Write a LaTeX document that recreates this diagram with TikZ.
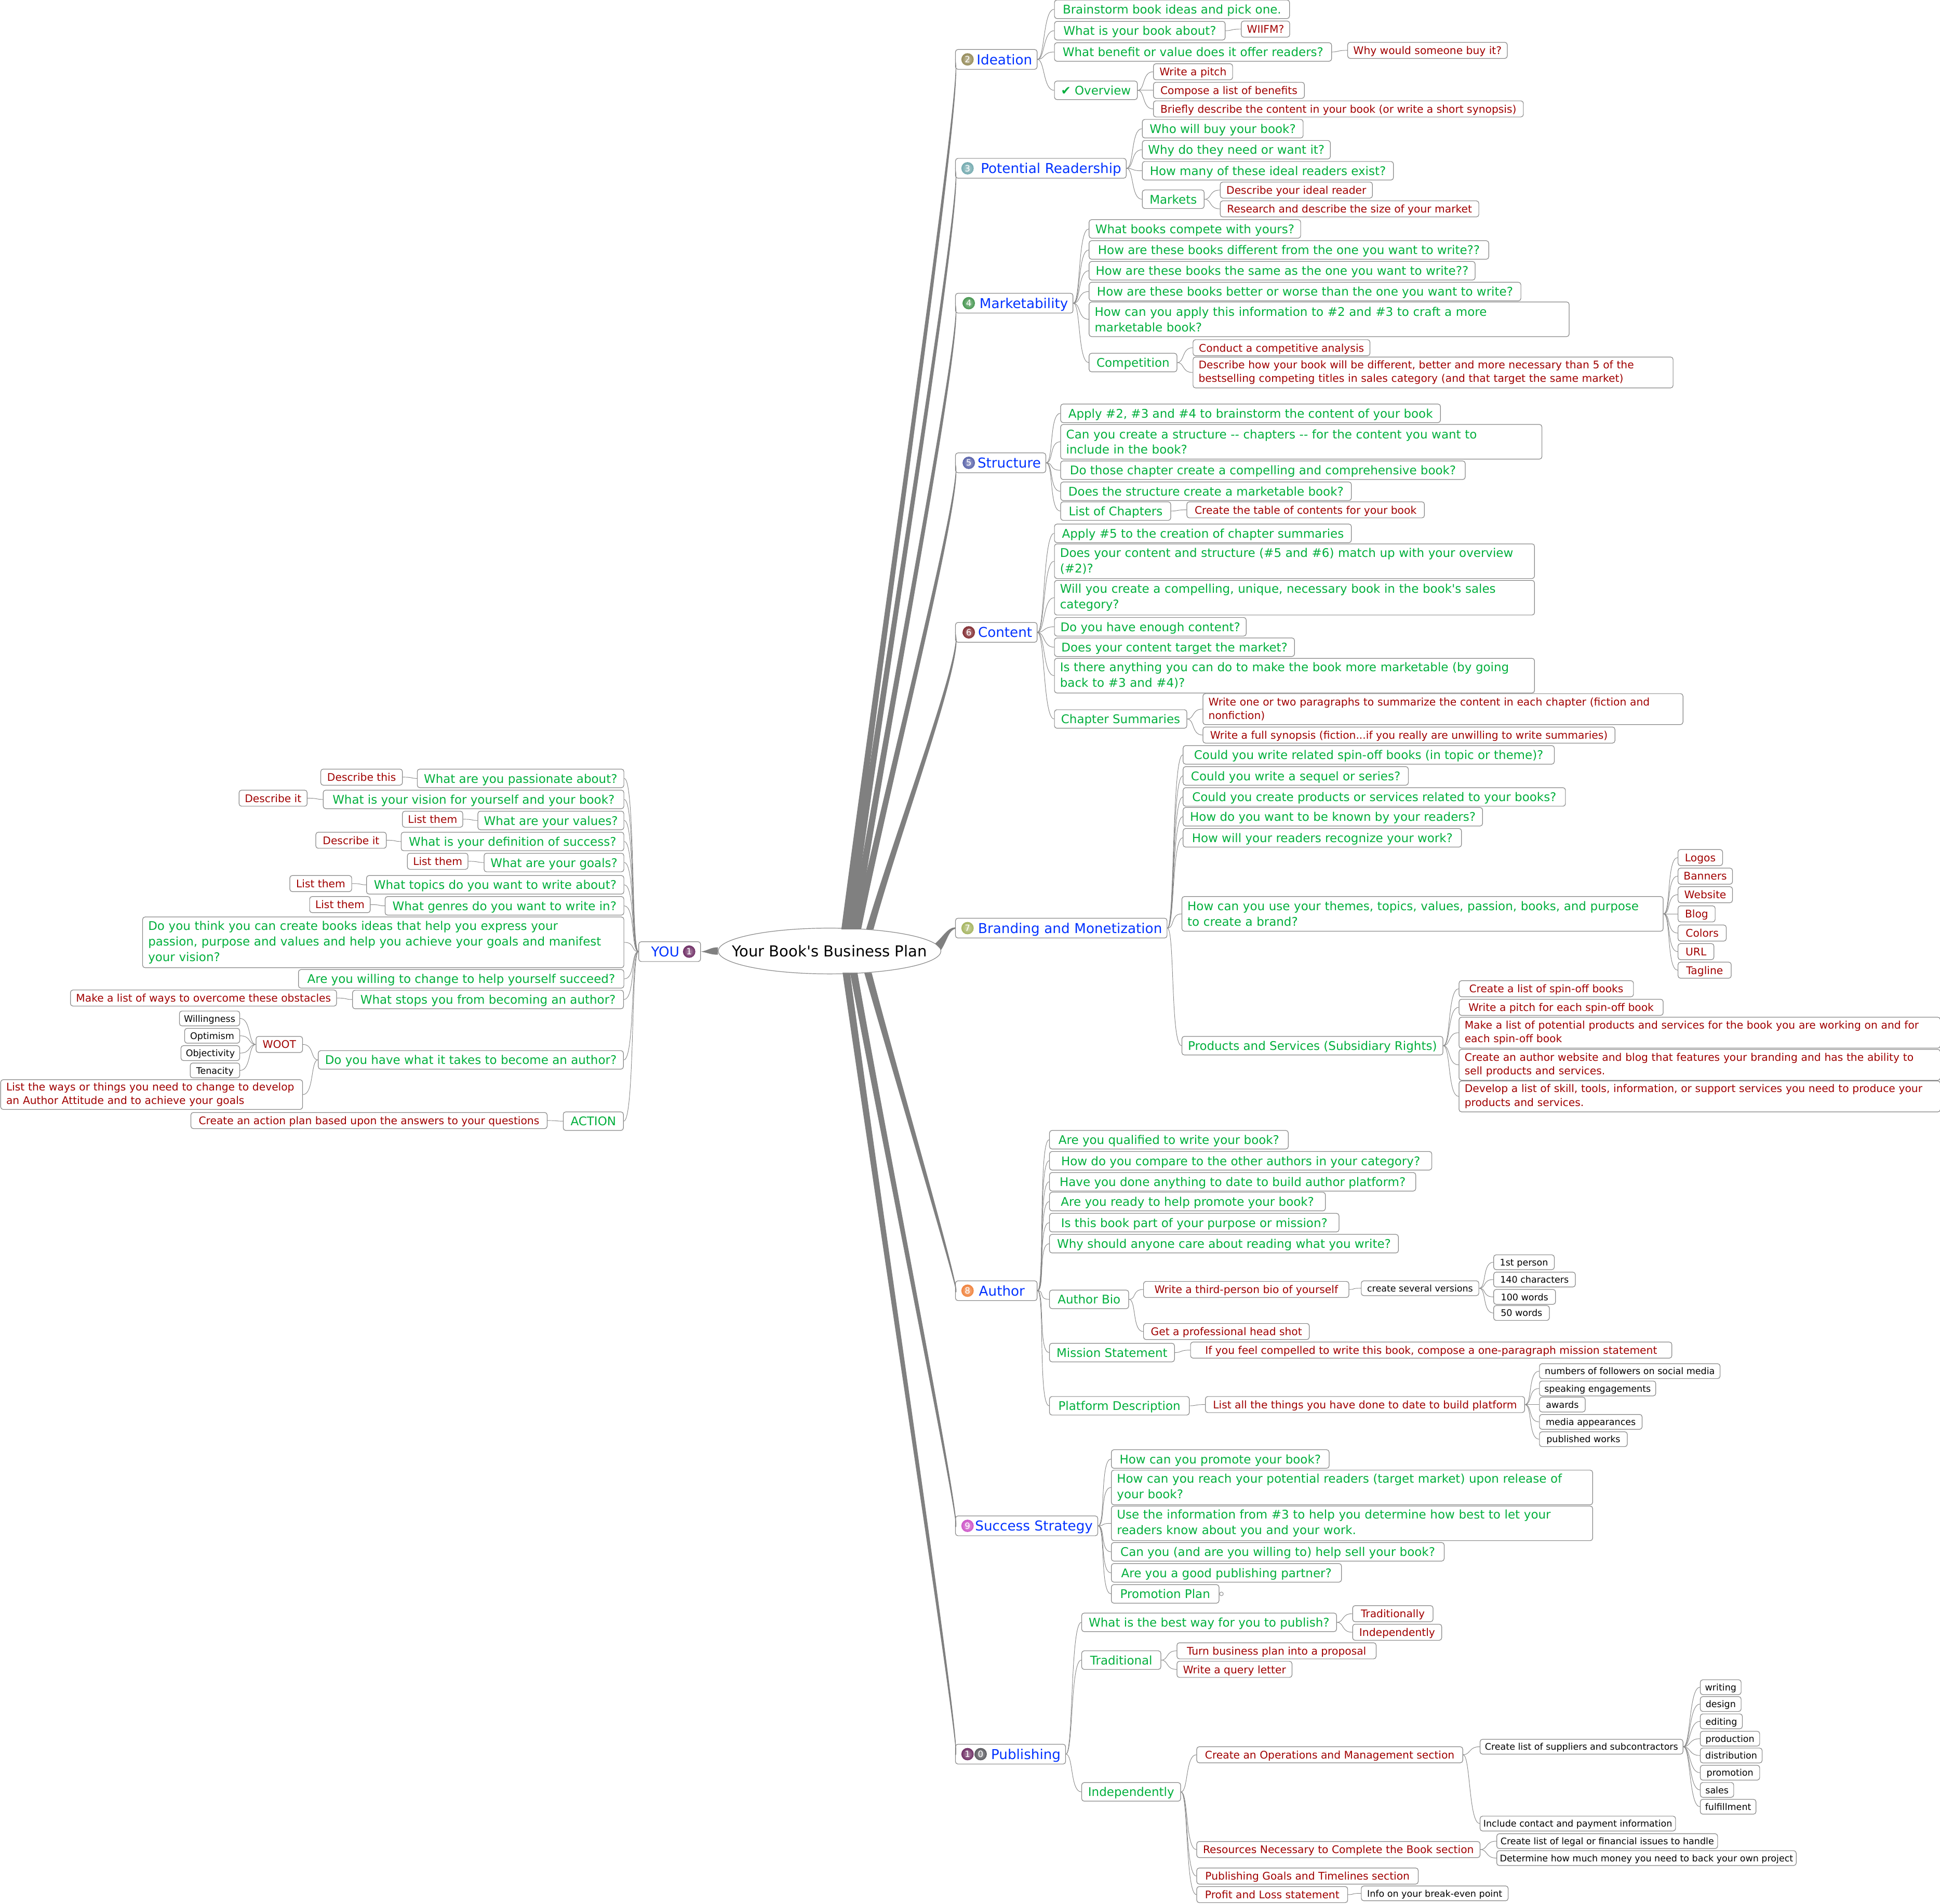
\documentclass[tikz,border=0pt]{standalone}
\usepackage{fontspec}
\setmainfont{DejaVu Sans}
\usetikzlibrary{calc, shapes.geometric}
\definecolor{grntext}{RGB}{0,175,60}
\definecolor{redtext}{RGB}{160,0,0}
\definecolor{blutext}{RGB}{0,50,255}
\definecolor{boxgray}{RGB}{135,135,135}
\definecolor{branchgray}{RGB}{128,128,128}
\definecolor{badgeb}{RGB}{150,140,90}
\definecolor{badgec}{RGB}{115,170,175}
\definecolor{badged}{RGB}{70,150,80}
\definecolor{badgee}{RGB}{90,100,170}
\definecolor{badgef}{RGB}{130,45,50}
\definecolor{badgeg}{RGB}{165,180,95}
\definecolor{badgeh}{RGB}{240,130,60}
\definecolor{badgei}{RGB}{205,85,200}
\definecolor{badgea}{RGB}{110,45,100}
\definecolor{badgez}{RGB}{90,90,95}
\tikzset{
  box/.style={draw=boxgray, line width=0.5pt, rounded corners=2pt, fill=white, anchor=west, inner xsep=4.5pt, inner ysep=0pt, align=left, text depth=0pt},
  wd/.style={minimum width=#1pt},
  ht/.style={minimum height=#1pt, text depth=},
  blu/.style={box, text=blutext, minimum height=16pt, inner xsep=4pt, align=right, font=\fontsize{11}{13}\selectfont},
  grn/.style={box, text=grntext, minimum height=15pt, font=\fontsize{9.65}{12.5}\selectfont},
  rdd/.style={box, text=redtext, minimum height=13pt, font=\fontsize{8.5}{11}\selectfont},
  blk/.style={box, text=black, minimum height=12pt, inner xsep=2.5pt, font=\fontsize{7.35}{11}\selectfont},
  badge/.style={circle, inner color=#1!55!white, outer color=#1, text=white, minimum size=10pt, inner sep=0pt, font=\fontsize{7}{7}\selectfont},
  link/.style={draw=boxgray, line width=0.4pt},
  branch/.style={fill=branchgray}
}
\newcommand{\thickbranch}[3]{
  \coordinate (bl) at ($(root.center)+(#1-3,#2)$);
  \coordinate (br) at ($(root.center)+(#1+3,#2)$);
  \coordinate (el) at ($(#3.west)+(0,-0.4)$);
  \coordinate (er) at ($(#3.west)+(0,0.4)$);
  \fill[branch] (bl) .. controls ($(bl)!0.35!(el)$) and ($(el)+(-7.2,0)!0.02!(bl)$) .. (el)
    -- (er) .. controls ($(er)+(-4.8,0)!0.02!(br)$) and ($(br)!0.35!(er)$) .. (br) -- cycle;
}
\begin{document}
\begin{tikzpicture}[x=1pt,y=-1pt]
  \useasboundingbox (0,0) rectangle (1568,1538.6);

  \node[ellipse, draw=boxgray, line width=0.5pt, fill=white, minimum width=180pt, minimum height=37pt, inner sep=0pt, font=\fontsize{12.2}{14}\selectfont] (root) at (670.5,768.5) {\makebox[0pt]{Your Book\textquotesingle s Business Plan}};

  \node[blu, wd=66, text width=58pt] (ideation) at (772,48) {Ideation};
  \node[badge=badgeb] (badge2) at (782,48) {2};
  \node[blu, wd=138, text width=130pt] (readership) at (772,136) {Potential Readership};
  \node[badge=badgec] (badge3) at (782,136) {3};
  \node[blu, wd=95, text width=87pt] (market) at (772,245) {Marketability};
  \node[badge=badged] (badge4) at (783,245) {4};
  \node[blu, wd=73, text width=65pt] (structure) at (772,374) {Structure};
  \node[badge=badgee] (badge5) at (783,374) {5};
  \node[blu, wd=66, text width=58pt] (content) at (772,511) {Content};
  \node[badge=badgef] (badge6) at (783,511) {6};
  \node[blu, wd=171, text width=163pt] (branding) at (772,750) {Branding and Monetization};
  \node[badge=badgeg] (badge7) at (782,750) {7};
  \node[blu, wd=66, text width=46pt] (author) at (772,1043) {Author};
  \node[badge=badgeh] (badge8) at (782,1043) {8};
  \node[blu, wd=115, text width=107pt] (success) at (772,1233) {Success Strategy};
  \node[badge=badgei] (badge9) at (782,1233) {9};
  \node[blu, wd=89, text width=81pt] (publishing) at (772,1417.5) {Publishing};
  \node[badge=badgea] (badge1b) at (782,1417.5) {1};
  \node[badge=badgez] (badge0) at (792.6,1417.5) {0};
  \node[blu, wd=50, text width=42pt, align=left] (you) at (516,769) {\hspace*{6pt}YOU};
  \node[badge=badgea] (badge1) at (557,769) {1};

  \node[grn, wd=190] (brainstorm) at (852,7.5) {Brainstorm book ideas and pick one.};
  \node[grn, wd=138] (about) at (852,24.8) {What is your book about?};
  \node[rdd, wd=39] (wiifm) at (1003,23.5) {WIIFM?};
  \node[grn, wd=224] (benefit) at (852,42) {What benefit or value does it offer readers?};
  \node[rdd, wd=129] (whybuy) at (1089,40.7) {Why would someone buy it?};
  \node[grn, wd=67] (overview) at (852,73) {✔ Overview};
  \node[rdd, wd=64] (pitch) at (932,58) {Write a pitch};
  \node[rdd, wd=122] (compose) at (932,73) {Compose a list of benefits};
  \node[rdd, wd=299] (briefly) at (932,88) {Briefly describe the content in your book (or write a short synopsis)};

  \node[grn, wd=130] (whobuy) at (923,104) {Who will buy your book?};
  \node[grn, wd=152] (whyneed) at (923,121) {Why do they need or want it?};
  \node[grn, wd=203] (howmany) at (923,138) {How many of these ideal readers exist?};
  \node[grn, wd=50] (markets) at (923,161) {Markets};
  \node[rdd, wd=123] (ideal) at (986,153.6) {Describe your ideal reader};
  \node[rdd, wd=209] (research) at (986,168.8) {Research and describe the size of your market};

  \node[grn, wd=171] (compete) at (880,185) {What books compete with yours?};
  \node[grn, wd=323] (different) at (880,202) {How are these books different from the one you want to write??};
  \node[grn, wd=312] (same) at (880,218.8) {How are these books the same as the one you want to write??};
  \node[grn, wd=349] (better) at (880,235.6) {How are these books better or worse than the one you want to write?};
  \node[grn, wd=388, ht=28, text width=379pt] (apply) at (880,258) {How can you apply this information to \#2 and \#3 to craft a more\\marketable book?};
  \node[grn, wd=71] (competition) at (880,293) {Competition};
  \node[rdd, wd=143] (analysis) at (964,281) {Conduct a competitive analysis};
  \node[rdd, wd=388, ht=25, text width=379pt] (necessary) at (964,301) {Describe how your book will be different, better and more necessary than 5 of the\\bestselling competing titles in sales category (and that target the same market)};

  \node[grn, wd=307] (brainapply) at (857,334) {Apply \#2, \#3 and \#4 to brainstorm the content of your book};
  \node[grn, wd=389, ht=28, text width=380pt] (chapters) at (857,357) {Can you create a structure -{}- chapters -{}- for the content you want to\\include in the book?};
  \node[grn, wd=327] (compelling) at (857,380) {Do those chapter create a compelling and comprehensive book?};
  \node[grn, wd=235] (marketable) at (857,397) {Does the structure create a marketable book?};
  \node[grn, wd=89] (listchap) at (857,413) {List of Chapters};
  \node[rdd, wd=192] (toc) at (959,412) {Create the table of contents for your book};

  \node[grn, wd=240] (applysum) at (852,431) {Apply \#5 to the creation of chapter summaries};
  \node[grn, wd=388, ht=28, text width=379pt] (matchup) at (852,453.5) {Does your content and structure (\#5 and \#6) match up with your overview\\(\#2)?};
  \node[grn, wd=388, ht=28, text width=379pt] (unique) at (852,483) {Will you create a compelling, unique, necessary book in the book\textquotesingle s sales\\category?};
  \node[grn, wd=155] (enough) at (852,506.5) {Do you have enough content?};
  \node[grn, wd=194] (target) at (852,523) {Does your content target the market?};
  \node[grn, wd=388, ht=28, text width=379pt] (anything) at (852,546) {Is there anything you can do to make the book more marketable (by going\\back to \#3 and \#4)?};
  \node[grn, wd=107] (summaries) at (852,581) {Chapter Summaries};
  \node[rdd, wd=388, ht=25, text width=379pt] (paragraphs) at (972,573) {Write one or two paragraphs to summarize the content in each chapter (fiction and\\nonfiction)};
  \node[rdd, wd=333] (synopsis) at (972,594) {Write a full synopsis (fiction...if you really are unwilling to write summaries)};

  \node[grn, wd=300] (spinoff) at (956,610) {Could you write related spin-off books (in topic or theme)?};
  \node[grn, wd=182] (sequel) at (956,627) {Could you write a sequel or series?};
  \node[grn, wd=309] (products) at (956,644) {Could you create products or services related to your books?};
  \node[grn, wd=242] (known) at (956,660) {How do you want to be known by your readers?};
  \node[grn, wd=225] (recognize) at (956,677) {How will your readers recognize your work?};
  \node[grn, wd=389, ht=28, text width=380pt] (brand) at (955,738.5) {How can you use your themes, topics, values, passion, books, and purpose\\to create a brand?};
  \node[rdd, wd=36] (logos) at (1356,693) {Logos};
  \node[rdd, wd=44] (banners) at (1356,708) {Banners};
  \node[rdd, wd=44] (website) at (1356,723) {Website};
  \node[rdd, wd=30] (blog) at (1356,738.5) {Blog};
  \node[rdd, wd=39] (colors) at (1356,754) {Colors};
  \node[rdd, wd=29] (url) at (1356,769) {URL};
  \node[rdd, wd=43] (tagline) at (1356,784) {Tagline};
  \node[grn, wd=211] (services) at (955,845) {Products and Services (Subsidiary Rights)};
  \node[rdd, wd=141] (listspin) at (1179,799) {Create a list of spin-off books};
  \node[rdd, wd=165] (pitchspin) at (1179,814) {Write a pitch for each spin-off book};
  \node[rdd, wd=389, ht=25, text width=380pt] (potential) at (1179,834.5) {Make a list of potential products and services for the book you are working on and for\\each spin-off book};
  \node[rdd, wd=389, ht=25, text width=380pt] (website2) at (1179,860.5) {Create an author website and blog that features your branding and has the ability to\\sell products and services.};
  \node[rdd, wd=389, ht=25, text width=380pt] (develop) at (1179,886) {Develop a list of skill, tools, information, or support services you need to produce your\\products and services.};

  \node[grn, wd=193] (qualified) at (848,921) {Are you qualified to write your book?};
  \node[grn, wd=309] (compare) at (848,938) {How do you compare to the other authors in your category?};
  \node[grn, wd=296] (done) at (848,955) {Have you done anything to date to build author platform?};
  \node[grn, wd=223] (ready) at (848,971) {Are you ready to help promote your book?};
  \node[grn, wd=234] (purpose) at (848,988) {Is this book part of your purpose or mission?};
  \node[grn, wd=282] (care) at (848,1005) {Why should anyone care about reading what you write?};
  \node[grn, wd=64] (bio) at (848,1050) {Author Bio};
  \node[rdd, wd=166] (third) at (924,1042) {Write a third-person bio of yourself};
  \node[blk, wd=95] (versions) at (1100,1041) {create several versions};
  \node[blk, wd=49] (person) at (1207,1020) {1st person};
  \node[blk, wd=66] (chars) at (1207,1034) {140 characters};
  \node[blk, wd=50] (hundred) at (1207,1048) {100 words};
  \node[blk, wd=45] (fifty) at (1207,1061) {50 words};
  \node[rdd, wd=134] (headshot) at (924,1076) {Get a professional head shot};
  \node[grn, wd=101] (mission) at (848,1093) {Mission Statement};
  \node[rdd, wd=389] (compelled) at (962,1091) {If you feel compelled to write this book, compose a one-paragraph mission statement};
  \node[grn, wd=113] (platform) at (848,1136) {Platform Description};
  \node[rdd, wd=258] (things) at (974,1135) {List all the things you have done to date to build platform};
  \node[blk, wd=146] (followers) at (1244,1108) {numbers of followers on social media};
  \node[blk, wd=94] (speaking) at (1244,1122) {speaking engagements};
  \node[blk, wd=37] (awards) at (1244,1135) {awards};
  \node[blk, wd=83] (media) at (1244,1149) {media appearances};
  \node[blk, wd=71] (works) at (1244,1163) {published works};

  \node[grn, wd=176] (promote) at (898,1179) {How can you promote your book?};
  \node[grn, wd=389, ht=28, text width=380pt] (reach) at (898,1202) {How can you reach your potential readers (target market) upon release of\\your book?};
  \node[grn, wd=389, ht=28, text width=380pt] (useinfo) at (898,1231) {Use the information from \#3 to help you determine how best to let your\\readers know about you and your work.};
  \node[grn, wd=269] (sell) at (898,1254) {Can you (and are you willing to) help sell your book?};
  \node[grn, wd=186] (partner) at (898,1271) {Are you a good publishing partner?};
  \node[grn, wd=87] (promoplan) at (898,1288) {Promotion Plan};
  \node[circle, draw=boxgray, line width=0.4pt, fill=white, inner sep=0pt, minimum size=3pt, anchor=west] (foldmark) at (promoplan.east) {};

  \node[grn, wd=206] (bestway) at (874,1311) {What is the best way for you to publish?};
  \node[rdd, wd=65] (tradly) at (1093,1304) {Traditionally};
  \node[rdd, wd=72] (indeply) at (1093,1319) {Independently};
  \node[grn, wd=64] (traditional) at (874,1341.5) {Traditional};
  \node[rdd, wd=161] (proposal) at (951,1334) {Turn business plan into a proposal};
  \node[rdd, wd=93] (query) at (951,1349) {Write a query letter};
  \node[grn, wd=80] (independent) at (874,1448) {Independently};
  \node[rdd, wd=215] (operations) at (967,1418) {Create an Operations and Management section};
  \node[blk, wd=164] (suppliers) at (1196,1411.5) {Create list of suppliers and subcontractors};
  \node[blk, wd=33] (writing) at (1374,1363.4) {writing};
  \node[blk, wd=33] (design) at (1374,1377) {design};
  \node[blk, wd=34] (editing) at (1374,1391) {editing};
  \node[blk, wd=48] (production) at (1374,1405) {production};
  \node[blk, wd=50] (distribution) at (1374,1418.6) {distribution};
  \node[blk, wd=48] (promotion) at (1374,1432.5) {promotion};
  \node[blk, wd=27] (sales) at (1374,1446.4) {sales};
  \node[blk, wd=45] (fulfillment) at (1374,1460) {fulfillment};
  \node[blk, wd=158] (contact) at (1196,1473.6) {Include contact and payment information};
  \node[rdd, wd=229] (resources) at (967,1494.6) {Resources Necessary to Complete the Book section};
  \node[blk, wd=178.5] (legal) at (1209.5,1487.8) {Create list of legal or financial issues to handle};
  \node[blk, wd=242] (money) at (1209.5,1501.5) {Determine how much money you need to back your own project};
  \node[rdd, wd=179] (goals) at (967,1516) {Publishing Goals and Timelines section};
  \node[rdd, wd=122] (profit) at (967,1531) {Profit and Loss statement};
  \node[blk, wd=118.7] (breakeven) at (1100,1530) {Info on your break-even point};

  \node[grn, wd=167] (passion) at (337,629) {What are you passionate about?};
  \node[rdd, wd=66] (describe1) at (259,628) {Describe this};
  \node[grn, wd=243] (vision) at (261,646) {What is your vision for yourself and your book?};
  \node[rdd, wd=55] (describe2) at (193,645) {Describe it};
  \node[grn, wd=118] (values) at (386,663) {What are your values?};
  \node[rdd, wd=48] (list1) at (325,662) {List them};
  \node[grn, wd=180] (definition) at (324,680) {What is your definition of success?};
  \node[rdd, wd=57] (describe3) at (255,679) {Describe it};
  \node[grn, wd=113] (yourgoals) at (391,697) {What are your goals?};
  \node[rdd, wd=49] (list2) at (329,696) {List them};
  \node[grn, wd=208] (topics) at (296,715) {What topics do you want to write about?};
  \node[rdd, wd=50] (list3) at (234,714) {List them};
  \node[grn, wd=193] (genres) at (311,732) {What genres do you want to write in?};
  \node[rdd, wd=49] (list4) at (250,731) {List them};
  \node[grn, wd=389, ht=41, text width=380pt] (think) at (115,761.5) {Do you think you can create books ideas that help you express your\\passion, purpose and values and help you achieve your goals and manifest\\your vision?};
  \node[grn, wd=263] (change) at (241,791) {Are you willing to change to help yourself succeed?};
  \node[grn, wd=219] (stops) at (284.7,807.7) {What stops you from becoming an author?};
  \node[rdd, wd=214] (obstacles) at (56.7,806.5) {Make a list of ways to overcome these obstacles};
  \node[grn, wd=246.6] (takes) at (257,856.5) {Do you have what it takes to become an author?};
  \node[rdd, wd=37.6] (woot) at (206.7,844) {WOOT};
  \node[blk, wd=48.7] (willing) at (144.8,823) {Willingness};
  \node[blk, wd=44.5] (optimism) at (149,837) {Optimism};
  \node[blk, wd=47.5] (objective) at (146,851) {Objectivity};
  \node[blk, wd=40] (tenacity) at (153.5,865) {Tenacity};
  \node[rdd, wd=244, ht=24, text width=235pt] (ways) at (0.3,884.5) {List the ways or things you need to change to develop\\an Author Attitude and to achieve your goals};
  \node[rdd, wd=288] (plan) at (154,905.5) {Create an action plan based upon the answers to your questions};
  \node[grn, wd=48.6] (action) at (455,906) {ACTION};

  \thickbranch{12.5}{-17.5}{ideation}
  \thickbranch{15.5}{-17.5}{readership}
  \thickbranch{19.5}{-17.5}{market}
  \thickbranch{22.5}{-17.5}{structure}
  \thickbranch{32.5}{-17.5}{content}
  \thickbranch{13.5}{17.5}{publishing}
  \thickbranch{19.5}{17.5}{success}
  \thickbranch{31}{17.5}{author}
  \fill[branch] ($(root.west)+(0,-3)$) .. controls +(-6,0) and +(6,-1) .. (you.east) .. controls +(6,1) and +(-6,0) .. ($(root.west)+(0,3)$) -- cycle;
  \fill[branch] ($(root.east)+(-5,-6)$) .. controls +(6,-5) and +(-6,0) .. ($(branding.west)+(0,-0.6)$) -- ($(branding.west)+(0,0.6)$) .. controls +(-5,1) and +(5,-8) .. ($(root.east)+(0,-1)$) -- cycle;

  \foreach \a/\b in {ideation/brainstorm, ideation/about, ideation/benefit, ideation/overview, about/wiifm, benefit/whybuy, overview/pitch, overview/compose, overview/briefly,
    readership/whobuy, readership/whyneed, readership/howmany, readership/markets, markets/ideal, markets/research,
    market/compete, market/different, market/same, market/better, market/apply, market/competition, competition/analysis, competition/necessary,
    structure/brainapply, structure/chapters, structure/compelling, structure/marketable, structure/listchap, listchap/toc,
    content/applysum, content/matchup, content/unique, content/enough, content/target, content/anything, content/summaries, summaries/paragraphs, summaries/synopsis,
    branding/spinoff, branding/sequel, branding/products, branding/known, branding/recognize, branding/brand, branding/services,
    brand/logos, brand/banners, brand/website, brand/blog, brand/colors, brand/url, brand/tagline,
    services/listspin, services/pitchspin, services/potential, services/website2, services/develop,
    author/qualified, author/compare, author/done, author/ready, author/purpose, author/care, author/bio, author/mission, author/platform,
    bio/third, bio/headshot, third/versions, versions/person, versions/chars, versions/hundred, versions/fifty, mission/compelled, platform/things,
    things/followers, things/speaking, things/awards, things/media, things/works,
    success/promote, success/reach, success/useinfo, success/sell, success/partner, success/promoplan,
    publishing/bestway, publishing/traditional, publishing/independent, bestway/tradly, bestway/indeply, traditional/proposal, traditional/query,
    independent/operations, independent/resources, independent/goals, independent/profit, operations/suppliers, operations/contact,
    suppliers/writing, suppliers/design, suppliers/editing, suppliers/production, suppliers/distribution, suppliers/promotion, suppliers/sales, suppliers/fulfillment,
    resources/legal, resources/money, profit/breakeven}
    \draw[link] (\a.east) .. controls +(6,0) and +(-9,0) .. (\b.west);

  \foreach \a/\b in {you/passion, you/vision, you/values, you/definition, you/yourgoals, you/topics, you/genres, you/think, you/change, you/stops, you/takes, you/action,
    passion/describe1, vision/describe2, values/list1, definition/describe3, yourgoals/list2, topics/list3, genres/list4, stops/obstacles,
    takes/woot, takes/ways, woot/willing, woot/optimism, woot/objective, woot/tenacity, action/plan}
    \draw[link] (\a.west) .. controls +(-6,0) and +(9,0) .. (\b.east);
\end{tikzpicture}
\end{document}
